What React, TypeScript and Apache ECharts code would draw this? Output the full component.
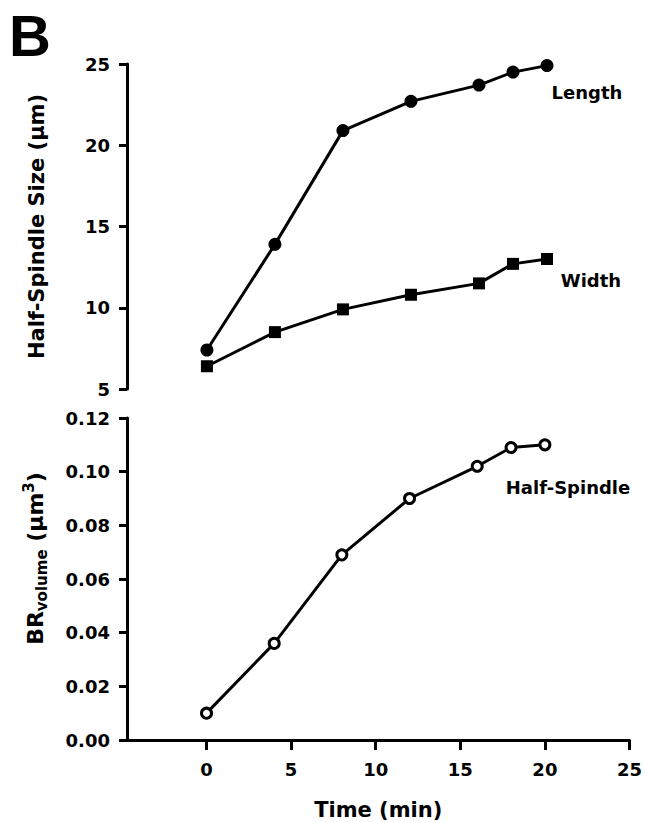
import React, { useEffect, useRef } from "react";
import * as echarts from "echarts";

const timePoints = [0, 4, 8, 12, 16, 18, 20];
const lengthValues = [7.4, 13.9, 20.9, 22.7, 23.7, 24.5, 24.9];
const widthValues = [6.4, 8.5, 9.9, 10.8, 11.5, 12.7, 13.0];
const volumeValues = [0.01, 0.036, 0.069, 0.09, 0.102, 0.109, 0.11];
const xTicks = [0, 5, 10, 15, 20, 25];

const FONT = "DejaVu Sans";

export default function App() {
  const ref = useRef<HTMLDivElement>(null);
  useEffect(() => {
    if (!ref.current) return;
    const chart = echarts.init(ref.current, null, { renderer: "svg" });
    const axisLineStyle = { color: "#000", width: 3 };
    const tickLabel = { color: "#000", fontFamily: FONT, fontWeight: "bold" as const, fontSize: 18 };
    const pair = (vals: number[]) => timePoints.map((t, i) => [t, vals[i]]);
    chart.setOption({
      animation: false,
      backgroundColor: "#fff",
      grid: [
        { left: 127, right: 13, top: 64, height: 325 },
        { left: 127, right: 13, top: 418, height: 322 },
      ],
      xAxis: [
        { type: "value", gridIndex: 0, min: -4.7, max: 25, show: false, splitLine: { show: false } },
        {
          type: "value",
          gridIndex: 1,
          min: -4.7,
          max: 25,
          axisLine: { show: true, onZero: false, lineStyle: axisLineStyle },
          axisTick: { show: true, length: 10, customValues: xTicks, lineStyle: { color: "#000", width: 3 } },
          axisLabel: { ...tickLabel, margin: 20, customValues: xTicks },
          splitLine: { show: false },
          name: "Time (min)",
          nameLocation: "middle",
          nameGap: 59,
          nameTextStyle: { color: "#000", fontFamily: FONT, fontWeight: "bold", fontSize: 21 },
        },
      ],
      yAxis: [
        {
          type: "value",
          gridIndex: 0,
          min: 5,
          max: 25,
          interval: 5,
          axisLine: { show: true, onZero: false, lineStyle: axisLineStyle },
          axisTick: { show: true, length: 8, lineStyle: { color: "#000", width: 3 } },
          axisLabel: { ...tickLabel, margin: 17 },
          splitLine: { show: false },
          name: "Half-Spindle Size (µm)",
          nameLocation: "middle",
          nameRotate: 90,
          nameGap: 80,
          nameTextStyle: { color: "#000", fontFamily: FONT, fontWeight: "bold", fontSize: 21 },
        },
        {
          type: "value",
          gridIndex: 1,
          min: 0,
          max: 0.12,
          interval: 0.02,
          axisLine: { show: true, onZero: false, lineStyle: axisLineStyle },
          axisTick: { show: true, length: 8, lineStyle: { color: "#000", width: 3 } },
          axisLabel: { ...tickLabel, margin: 17, formatter: (v: number) => v.toFixed(2) },
          splitLine: { show: false },
          name: "{a|BR}{b|volume}{a| (µm}{c|3}{a|)}",
          nameLocation: "middle",
          nameRotate: 90,
          nameGap: 78,
          nameTextStyle: {
            color: "#000",
            fontFamily: FONT,
            fontWeight: "bold",
            fontSize: 22,
            padding: [0, 0, 0, 41],
            rich: {
              a: { fontFamily: FONT, fontWeight: "bold", fontSize: 22, lineHeight: 28, verticalAlign: "middle", color: "#000" },
              b: { fontFamily: FONT, fontWeight: "bold", fontSize: 15, lineHeight: 15, verticalAlign: "bottom", color: "#000" },
              c: { fontFamily: FONT, fontWeight: "bold", fontSize: 15, lineHeight: 15, verticalAlign: "top", color: "#000" },
            },
          },
        },
      ],
      series: [
        {
          type: "line",
          name: "Length",
          xAxisIndex: 0,
          yAxisIndex: 0,
          data: pair(lengthValues),
          symbol: "circle",
          symbolSize: 13,
          lineStyle: { color: "#000", width: 3 },
          itemStyle: { color: "#000" },
        },
        {
          type: "line",
          name: "Width",
          xAxisIndex: 0,
          yAxisIndex: 0,
          data: pair(widthValues),
          symbol: "rect",
          symbolSize: 12,
          lineStyle: { color: "#000", width: 3 },
          itemStyle: { color: "#000" },
        },
        {
          type: "line",
          name: "Half-Spindle",
          xAxisIndex: 1,
          yAxisIndex: 1,
          data: pair(volumeValues),
          symbol: "circle",
          symbolSize: 10,
          lineStyle: { color: "#000", width: 3 },
          itemStyle: { color: "#fff", borderColor: "#000", borderWidth: 3 },
        },
      ],
      graphic: [
        {
          type: "text",
          x: 9,
          y: 35,
          style: { text: "B", fontFamily: "Liberation Sans", fontWeight: "bold", fontSize: 58, fill: "#000", align: "left", verticalAlign: "middle" },
        },
        {
          type: "text",
          x: 587,
          y: 92,
          style: { text: "Length", fontFamily: FONT, fontWeight: "bold", fontSize: 18, fill: "#000", align: "center", verticalAlign: "middle" },
        },
        {
          type: "text",
          x: 591,
          y: 280,
          style: { text: "Width", fontFamily: FONT, fontWeight: "bold", fontSize: 18, fill: "#000", align: "center", verticalAlign: "middle" },
        },
        {
          type: "text",
          x: 568,
          y: 487,
          style: { text: "Half-Spindle", fontFamily: FONT, fontWeight: "bold", fontSize: 18, fill: "#000", align: "center", verticalAlign: "middle" },
        },
      ],
    });
    return () => chart.dispose();
  }, []);
  return <div ref={ref} style={{ position: "absolute", left: 0, top: 0, width: 645, height: 822 }} />;
}
